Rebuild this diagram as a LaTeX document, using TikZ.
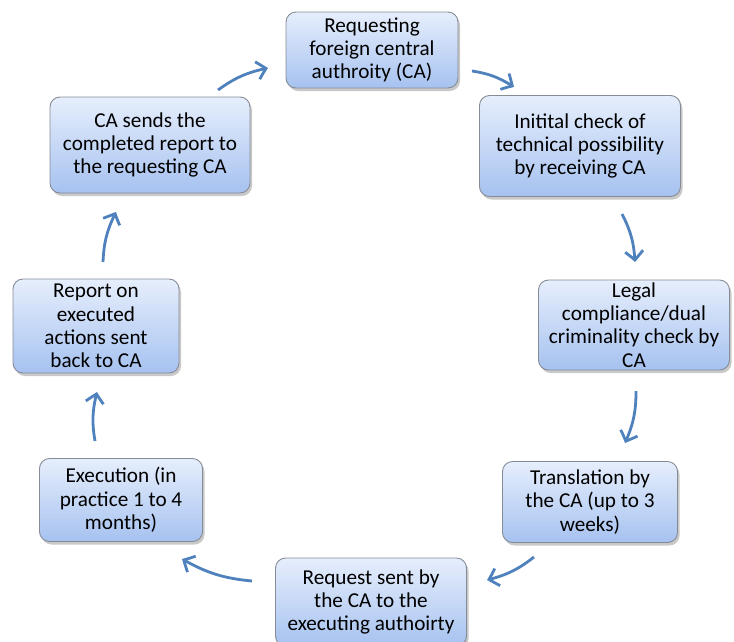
\documentclass[tikz,border=0pt]{standalone}
\usepackage{fontspec}
\setmainfont{Carlito}
\usetikzlibrary{arrows.meta,shadows,bending}
\definecolor{arrowblue}{HTML}{4F81BD}
\definecolor{boxtop}{HTML}{E6EEFC}
\definecolor{boxbot}{HTML}{A6C2F0}
\definecolor{boxedge}{HTML}{868C96}
\tikzset{
  stage/.style={draw=boxedge, line width=0.9pt, rounded corners=10pt,
    top color=boxtop, bottom color=boxbot, align=center, text=black,
    inner sep=0pt, font=\fontsize{21.2}{23.3}\selectfont,
    drop shadow={shadow xshift=2pt, shadow yshift=-3pt, opacity=0.3, fill=black!70}},
  cyclearrow/.style={draw=arrowblue, line width=2.8pt,
    -{Straight Barb[length=9pt,width=18pt,bend]}, bend left=12}
}
\begin{document}
\begin{tikzpicture}[x=1pt,y=-1pt]
\useasboundingbox (0,0) rectangle (734,641);
% the eight stages of the cycle
\node[stage, minimum width=172pt, minimum height=76pt]  (s1) at (372,50)  {Requesting\\foreign central\\authroity (CA)};
\node[stage, minimum width=201pt, minimum height=101pt] (s2) at (580,146) {Initital check of\\technical possibility\\by receiving CA};
\node[stage, minimum width=191pt, minimum height=90pt]  (s3) at (634,325) {Legal\\compliance/dual\\criminality check by\\CA};
\node[stage, minimum width=175pt, minimum height=81pt]  (s4) at (590,502) {Translation by\\the CA (up to 3\\weeks)};
\node[stage, minimum width=191pt, minimum height=88pt]  (s5) at (371,602) {Request sent by\\the CA to the\\executing authoirty};
\node[stage, minimum width=163pt, minimum height=83pt]  (s6) at (121,500) {Execution (in\\practice 1 to 4\\months)};
\node[stage, minimum width=166pt, minimum height=94pt]  (s7) at (96,326)  {Report on\\executed\\actions sent\\back to CA};
\node[stage, minimum width=200pt, minimum height=96pt]  (s8) at (150,145) {CA sends the\\completed report to\\the requesting CA};
% arrow ends between the stages
\coordinate (a1s) at (472,71);  \coordinate (a1e) at (514,87);
\coordinate (a2s) at (622,214); \coordinate (a2e) at (635,262);
\coordinate (a3s) at (636,391); \coordinate (a3e) at (625,443);
\coordinate (a4s) at (534,557); \coordinate (a4e) at (487,580);
\coordinate (a5s) at (252,581); \coordinate (a5e) at (182,559);
\coordinate (a6s) at (95,441);  \coordinate (a6e) at (97,392);
\coordinate (a7s) at (103,262); \coordinate (a7e) at (116,212);
\coordinate (a8s) at (218,90);  \coordinate (a8e) at (268,68);
\foreach \i in {1,...,8} \draw[cyclearrow] (a\i s) to (a\i e);
\end{tikzpicture}
\end{document}
